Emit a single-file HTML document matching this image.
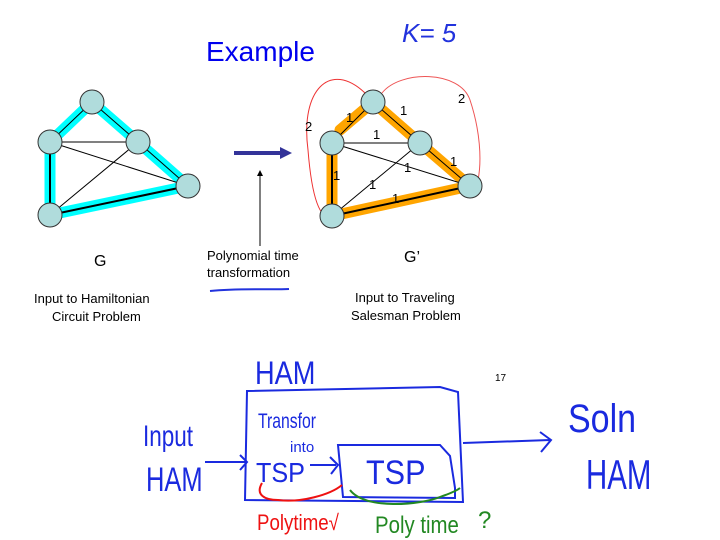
<!DOCTYPE html>
<html><head><style>
body{margin:0;background:#fff;width:720px;height:540px;overflow:hidden}
svg{display:block}
.t{font-family:"Liberation Sans",sans-serif}
.h{font-family:"Liberation Sans",sans-serif;font-weight:normal}
</style></head><body>
<svg width="720" height="540" viewBox="0 0 720 540">
<text x="206" y="61" class="t" font-size="28" fill="#0000ee">Example</text>
<text x="402" y="42" class="h" font-size="26" fill="#2233dd" font-style="italic">K= 5</text>
<g stroke="#00ffff" stroke-width="11" fill="none" stroke-linecap="round" stroke-linejoin="round">
<polyline points="50,142 92,102 138,142 188,186 50,215 50,142"/>
</g>
<g stroke="#000" stroke-width="1" fill="none">
<line x1="50" y1="142" x2="92" y2="102"/><line x1="92" y1="102" x2="138" y2="142"/>
<line x1="50" y1="142" x2="138" y2="142"/><line x1="50" y1="142" x2="188" y2="186"/>
<line x1="138" y1="142" x2="50" y2="215"/><line x1="138" y1="142" x2="188" y2="186"/>
<line x1="50" y1="142" x2="50" y2="215" stroke-width="2"/><line x1="50" y1="215" x2="188" y2="186" stroke-width="2"/>
</g>
<g fill="#b0dcdc" stroke="#333" stroke-width="1">
<circle cx="92" cy="102" r="12"/><circle cx="50" cy="142" r="12"/><circle cx="138" cy="142" r="12"/><circle cx="188" cy="186" r="12"/><circle cx="50" cy="215" r="12"/>
</g>
<line x1="234" y1="153" x2="282" y2="153" stroke="#333399" stroke-width="4"/>
<polygon points="280,147 292,153 280,159" fill="#333399"/>
<line x1="260" y1="246" x2="260" y2="175" stroke="#000" stroke-width="1"/>
<polygon points="257,176 260,170 263,176" fill="#000"/>
<path d="M365,93 C330,60 300,90 308,150 C312,200 320,218 332,220" stroke="#ee3333" fill="none" stroke-width="1"/>
<path d="M382,93 C400,70 460,70 470,100 C480,130 482,160 478,180" stroke="#ee5555" fill="none" stroke-width="1"/>
<g stroke="#ffa500" stroke-width="11" fill="none" stroke-linecap="round" stroke-linejoin="round">
<polyline points="340,130 373,102 420,143 470,186 332,216 332,150"/>
</g>
<g stroke="#000" stroke-width="1" fill="none">
<line x1="332" y1="143" x2="373" y2="102"/><line x1="373" y1="102" x2="420" y2="143"/>
<line x1="332" y1="143" x2="420" y2="143"/><line x1="332" y1="143" x2="470" y2="186"/>
<line x1="420" y1="143" x2="332" y2="216"/><line x1="420" y1="143" x2="470" y2="186"/>
<line x1="332" y1="143" x2="332" y2="216" stroke-width="2"/><line x1="332" y1="216" x2="470" y2="186" stroke-width="2"/>
</g>
<g fill="#b0dcdc" stroke="#333" stroke-width="1">
<circle cx="373" cy="102" r="12"/><circle cx="332" cy="143" r="12"/><circle cx="420" cy="143" r="12"/><circle cx="470" cy="186" r="12"/><circle cx="332" cy="216" r="12"/>
</g>
<g class="t" font-size="13" fill="#000">
<text x="346" y="122">1</text><text x="400" y="115">1</text><text x="373" y="139">1</text>
<text x="305" y="131">2</text><text x="458" y="103">2</text>
<text x="404" y="172">1</text><text x="450" y="166">1</text><text x="333" y="180">1</text>
<text x="369" y="189">1</text><text x="392" y="203">1</text>
</g>
<g class="t" font-size="16" fill="#000"><text x="94" y="266">G</text><text x="404" y="262">G’</text></g>
<g class="t" font-size="13" fill="#000">
<text x="207" y="260">Polynomial time</text><text x="207" y="277">transformation</text>
<text x="34" y="303">Input to Hamiltonian</text><text x="52" y="321">Circuit Problem</text>
<text x="355" y="302">Input to Traveling</text><text x="351" y="320">Salesman Problem</text>
<text x="495" y="381" font-size="10">17</text>
</g>
<path d="M210,291 C240,288 270,290 289,289" stroke="#2233dd" stroke-width="2" fill="none"/>
<g stroke="#1a2adf" stroke-width="2" fill="none">
<path d="M247,391 L440,387 L458,392 L463,502 L245,500 Z"/>
<path d="M310,465 L336,465 M330,457 L338,465 L331,474"/>
<path d="M338,445 L440,445 L450,456 L455,488 L455,498 L343,497 Z"/>
<path d="M205,462 L245,462 M240,455 L247,462 L240,470"/>
<path d="M463,443 L550,440 M540,432 L551,440 L541,452"/>
</g>
<g class="h" fill="#1a2adf">
<text x="0" y="384" font-size="32" transform="translate(255,0) scale(0.85,1)">HAM</text>
<text x="0" y="428" font-size="21" transform="translate(258,0) scale(0.75,1)">Transfor</text>
<text x="290" y="452" font-size="15">into</text>
<text x="0" y="482" font-size="28" transform="translate(256,0) scale(0.9,1)">TSP</text>
<text x="0" y="484" font-size="34" transform="translate(366,0) scale(0.9,1)">TSP</text>
<text x="0" y="446" font-size="30" transform="translate(143,0) scale(0.75,1)">Input</text>
<text x="0" y="491" font-size="34" transform="translate(146,0) scale(0.75,1)">HAM</text>
<text x="0" y="432" font-size="40" transform="translate(568,0) scale(0.85,1)">Soln</text>
<text x="0" y="489" font-size="42" transform="translate(586,0) scale(0.7,1)">HAM</text>
</g>
<path d="M262,483 C255,495 265,500 278,500 C300,503 330,495 342,485" stroke="#ee1111" stroke-width="2" fill="none"/>
<path d="M350,490 C365,510 420,505 440,497 C448,494 455,492 460,488" stroke="#228822" stroke-width="2" fill="none"/>
<text x="0" y="530" class="h" font-size="22" fill="#ee1111" transform="translate(257,0) scale(0.85,1)">Polytime√</text>
<text x="0" y="533" class="h" font-size="24" fill="#228822" transform="translate(375,0) scale(0.85,1)">Poly time</text>
<text x="478" y="528" class="h" font-size="24" fill="#228822">?</text>
</svg>
</body></html>
